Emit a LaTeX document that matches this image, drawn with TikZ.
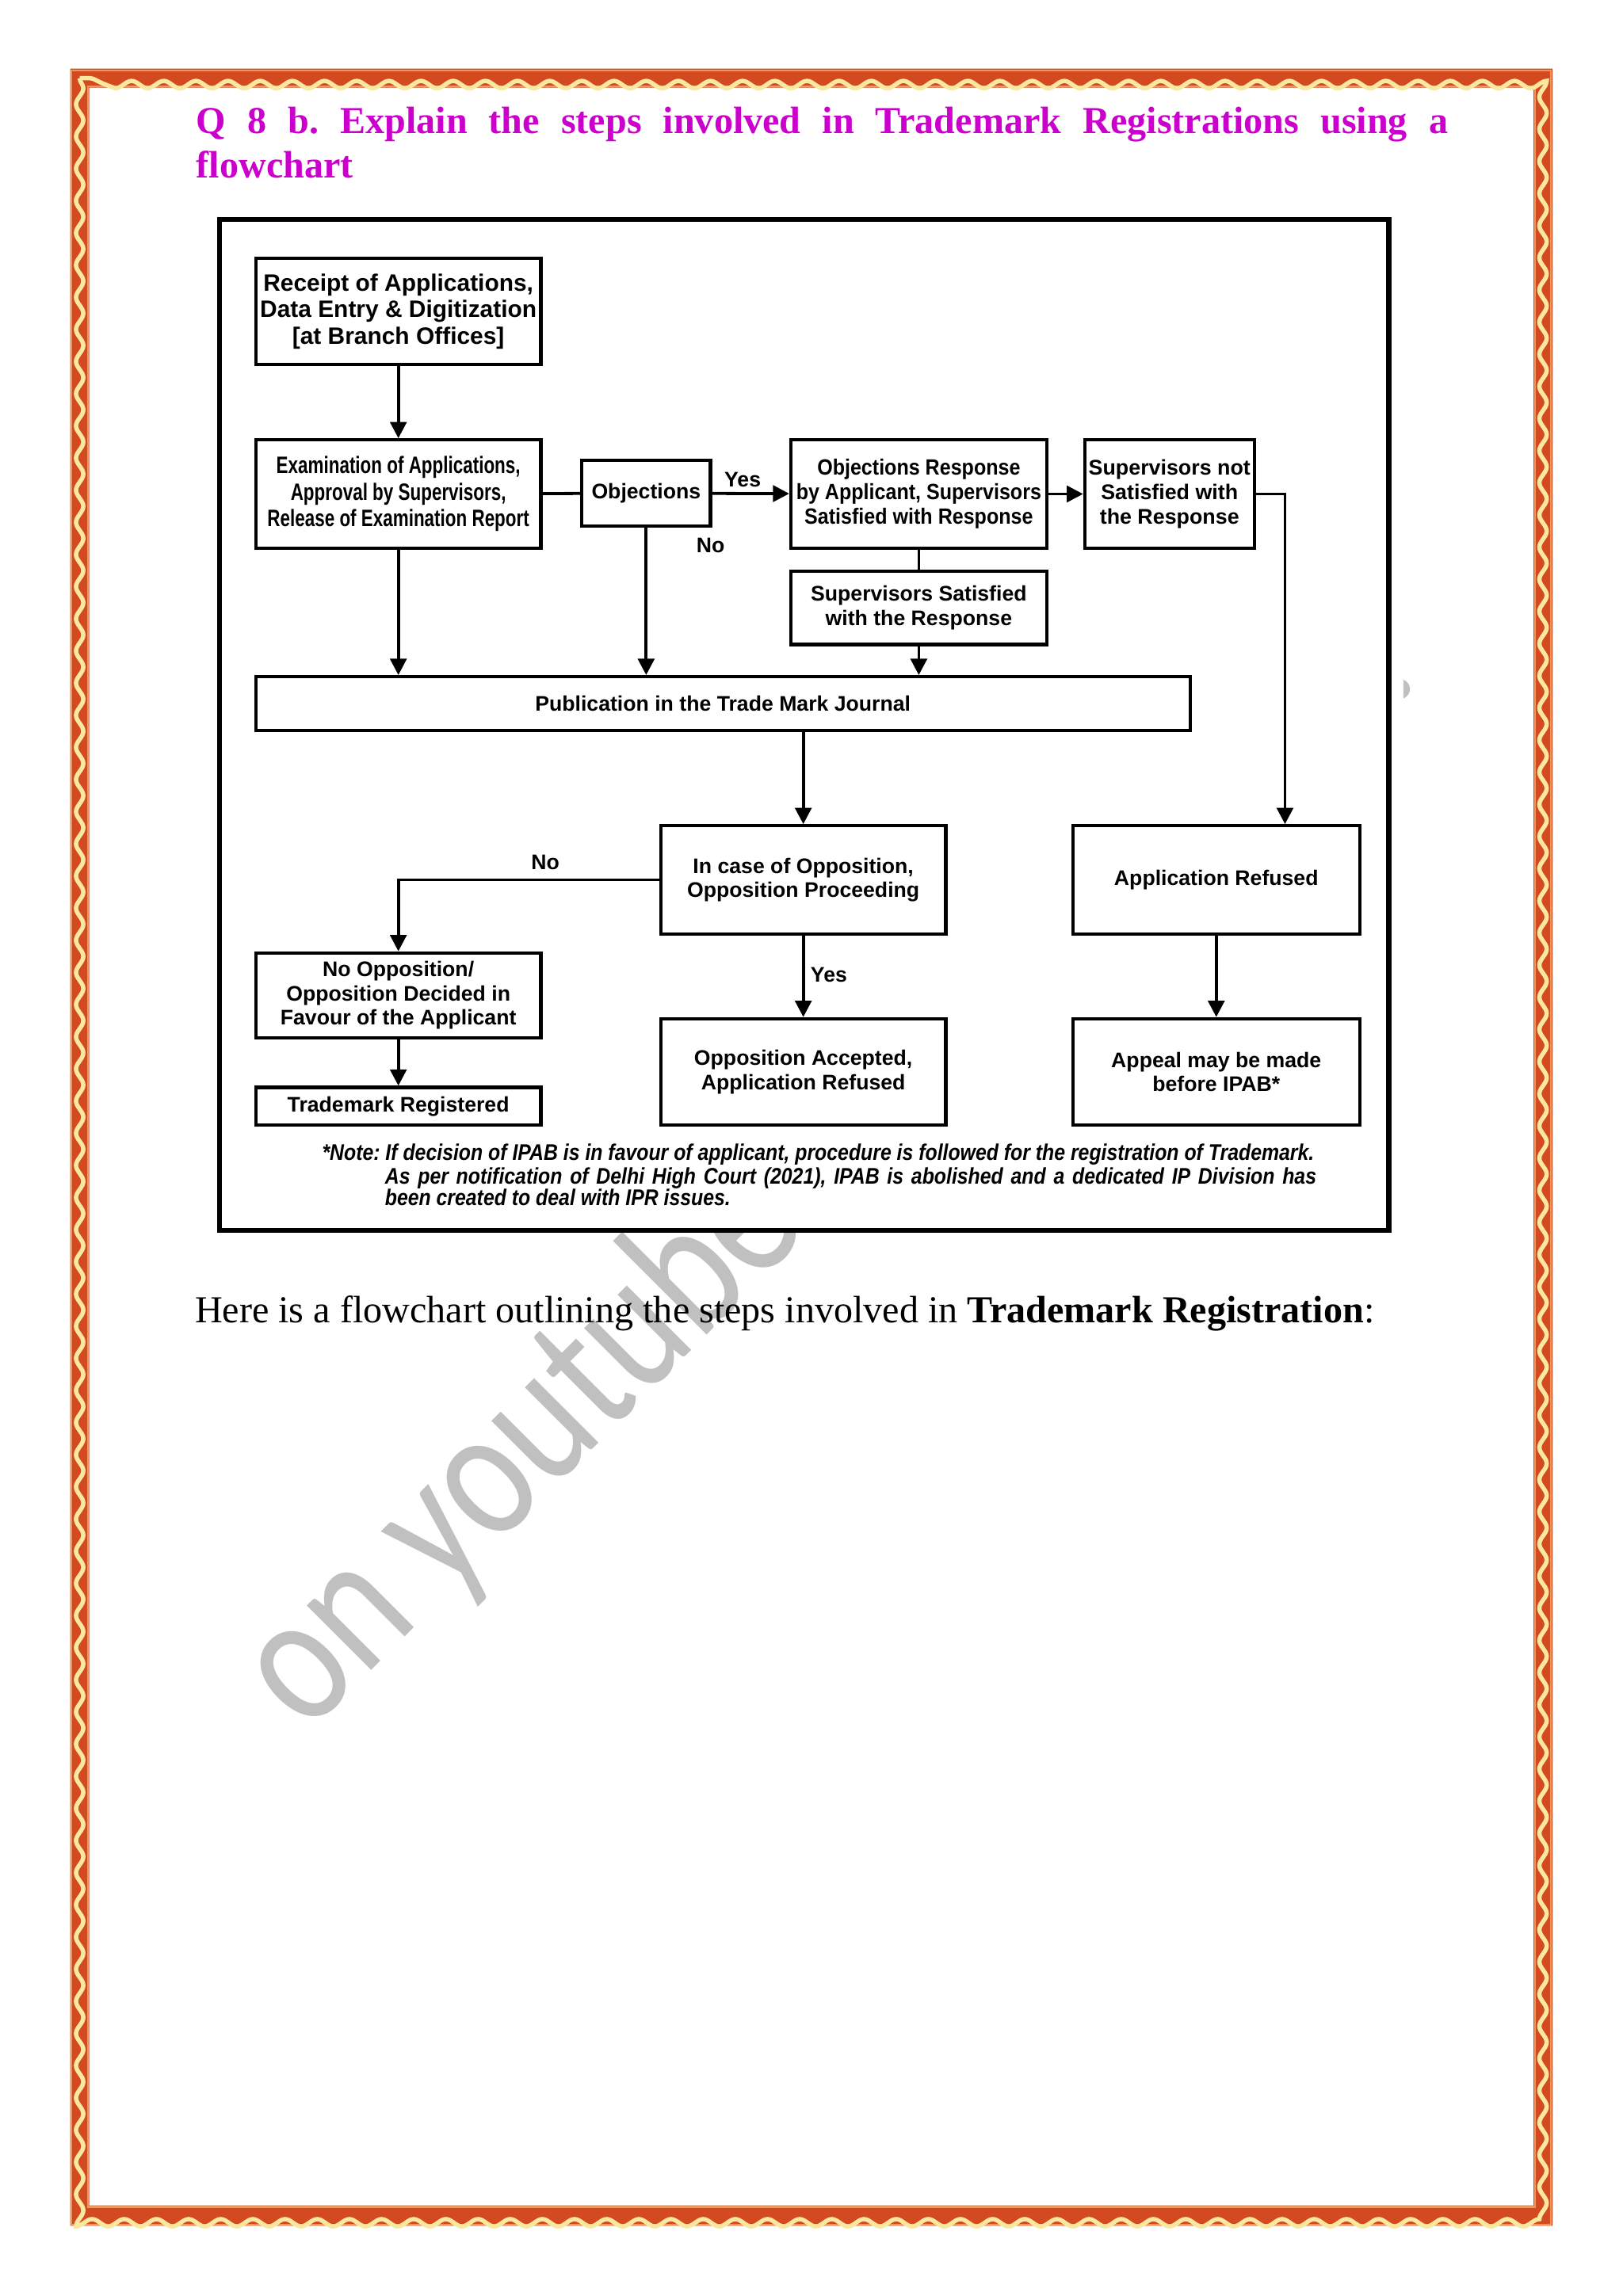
\documentclass[tikz,border=0pt]{standalone}
\usepackage{fontspec}
\setmainfont{Liberation Serif}
\setsansfont{Liberation Sans}
\newfontfamily\narrowfont{Liberation Sans}[FakeStretch=0.75]
\newfontfamily\semifont{Liberation Sans}[FakeStretch=0.9]
\newfontfamily\notefont{Liberation Sans}[FakeStretch=0.87]
\newfontfamily\markfont{Carlito}[FakeStretch=0.8]
\usetikzlibrary{arrows.meta,decorations.pathmorphing}
\newcommand{\du}{0.5365pt}
\definecolor{titlemag}{RGB}{204,0,204}
\definecolor{bandred}{RGB}{212,74,32}
\definecolor{bandline}{RGB}{238,150,90}
\definecolor{bandwave}{RGB}{250,232,160}
\definecolor{markgray}{RGB}{192,192,192}
\frenchspacing
\begin{document}
\begin{tikzpicture}[x=\du, y=-\du,
	box/.style = {draw, line width=1.2pt, fill=white, align=center, inner sep=1pt, font=\sffamily\bfseries\fontsize{7.75}{8.9}\selectfont},
	lbl/.style = {inner sep=1pt, font=\sffamily\bfseries\fontsize{7.75}{8.9}\selectfont},
	note/.style = {anchor=base west, inner sep=0, font=\notefont\bfseries\itshape\fontsize{8.3}{8.3}\selectfont},
	arr/.style = {line width=1.1pt, -{Triangle[length=6pt, width=6pt]}},
	link/.style = {line width=1.1pt}]
	\useasboundingbox (0,0) rectangle (1110,1571);
	\fill[white] (0,0) rectangle (1110,1571);
	\fill[bandred, even odd rule] (48,47) rectangle (1062,1523) (61,60) rectangle (1049,1509);
	\draw[bandline, line width=0.6pt] (49,48) rectangle (1061,1522);
	\draw[bandline, line width=0.6pt] (60,59) rectangle (1050,1510);
	\draw[bandwave, line width=1.6pt, decorate, decoration={snake, segment length=22*\du, amplitude=2.5*\du}] (54.5,53.5) rectangle (1055.5,1516);
	\node[anchor=north west, inner sep=0, text width=459.3pt, align=justify, text=titlemag, font=\bfseries\fontsize{14}{16.1}\selectfont] (title) at (134,73) {Q 8 b. Explain the steps involved in Trademark Registrations using a\linebreak flowchart};
	\node[markgray, rotate=45, anchor=base west, inner sep=0, font=\markfont\fontsize{70}{70}\selectfont] (mark) at (210,1187) {on youtube};
	\fill[markgray] (960,465) .. controls (966,468) and (966,475) .. (960,478) -- cycle;
	\draw[line width=1.8pt, fill=white] (150,150) rectangle (950,842);
	\node[box, minimum width=195*\du, minimum height=73*\du, font=\sffamily\bfseries\fontsize{8.7}{9.7}\selectfont] (1) at (272.5,213) {Receipt of Applications,\\Data Entry \& Digitization\\{[at Branch Offices]}};
	\node[box, minimum width=195*\du, minimum height=74*\du, font=\narrowfont\bfseries\fontsize{8.7}{9.7}\selectfont] (2) at (272.5,338) {Examination of Applications,\\Approval by Supervisors,\\Release of Examination Report};
	\node[box, minimum width=88*\du, minimum height=45*\du] (3) at (442,337.5) {Objections};
	\node[box, minimum width=175*\du, minimum height=74*\du, font=\semifont\bfseries\fontsize{8.1}{9.1}\selectfont] (4) at (628.5,338) {Objections Response\\by Applicant, Supervisors\\Satisfied with Response};
	\node[box, minimum width=116*\du, minimum height=74*\du, font=\sffamily\bfseries\fontsize{7.8}{9.1}\selectfont] (5) at (800,338) {Supervisors not\\Satisfied with\\the Response};
	\node[box, minimum width=175*\du, minimum height=50*\du] (6) at (628.5,416) {Supervisors Satisfied\\with the Response};
	\node[box, minimum width=639*\du, minimum height=37*\du] (7) at (494.5,481.5) {Publication in the Trade Mark Journal};
	\node[box, minimum width=195*\du, minimum height=74*\du] (8) at (549.5,602) {In case of Opposition,\\Opposition Proceeding};
	\node[box, minimum width=196*\du, minimum height=74*\du] (9) at (832,602) {Application Refused};
	\node[box, minimum width=195*\du, minimum height=58*\du] (10) at (272.5,681) {No Opposition/\\Opposition Decided in\\Favour of the Applicant};
	\node[box, minimum width=195*\du, minimum height=26*\du] (11) at (272.5,757) {Trademark Registered};
	\node[box, minimum width=195*\du, minimum height=73*\du] (12) at (549.5,733.5) {Opposition Accepted,\\Application Refused};
	\node[box, minimum width=196*\du, minimum height=73*\du] (13) at (832,733.5) {Appeal may be made\\before IPAB*};
	\node[lbl] (yes1) at (508,328) {Yes};
	\node[lbl] (no1) at (486,373) {No};
	\node[lbl] (no2) at (373,590) {No};
	\node[lbl] (yes2) at (567,667) {Yes};
	\draw[arr] (1) -- (2);
	\draw[link] (2) -- (3);
	\draw[arr] (3) -- (4);
	\draw[arr] (4) -- (5);
	\draw[link] (4) -- (6);
	\draw[arr] (2) -- (2 |- 7.north);
	\draw[arr] (3) -- (3 |- 7.north);
	\draw[arr] (6) -- (6 |- 7.north);
	\draw[arr] (5) -| ([xshift=47*\du]9.north);
	\draw[arr] (8 |- 7.south) -- (8);
	\draw[arr] (8) -| (10);
	\draw[arr] (8) -- (12);
	\draw[arr] (9) -- (13);
	\draw[arr] (10) -- (11);
	\node[note] (note1) at (220,794) {*Note: If decision of IPAB is in favour of applicant, procedure is followed for the registration of Trademark.};
	\node[note] (note2) at (263,810) {\makebox[341.8pt][s]{As per notification of Delhi High Court (2021), IPAB is abolished and a dedicated IP Division has}};
	\node[note] (note3) at (263,825) {been created to deal with IPR issues.};
	\node[anchor=base west, inner sep=0, font=\fontsize{14}{16}\selectfont] (intro) at (133,905) {Here is a flowchart outlining the steps involved in \textbf{Trademark Registration}:};
\end{tikzpicture}
\end{document}
